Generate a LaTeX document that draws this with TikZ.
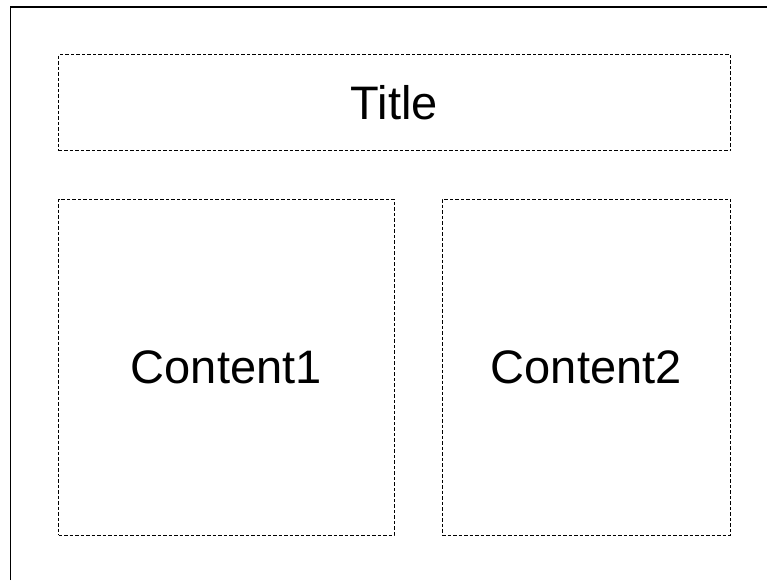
\documentclass[tikz,border=0pt]{standalone}
\usepackage{fontspec}
\setmainfont{Liberation Sans}
\begin{document}
\begin{tikzpicture}[x=1pt,y=1pt,
  region/.style={draw=black, line width=1pt, dash pattern=on 3.5pt off 2pt,
    inner sep=0pt, font=\fontsize{47}{56}\selectfont, text=black},
  frameline/.style={draw=black, line width=1.1pt}]
\useasboundingbox (0,0) rectangle (767,-580);
\coordinate (fb) at (10.5,-580);
\coordinate (fc) at (10.5,-7);
\coordinate (fr) at (767,-7);
\draw[frameline] (fb) -- (fc) -- (fr);
\node[region, minimum width=672pt, minimum height=96pt] (title) at (394.5,-103) {\raisebox{2pt}{Title}};
\node[region, minimum width=335.5pt, minimum height=336pt] (c1) at (226.25,-367) {Content1};
\node[region, minimum width=288.5pt, minimum height=336pt] (c2) at (586.25,-367) {Content2};
\end{tikzpicture}
\end{document}
